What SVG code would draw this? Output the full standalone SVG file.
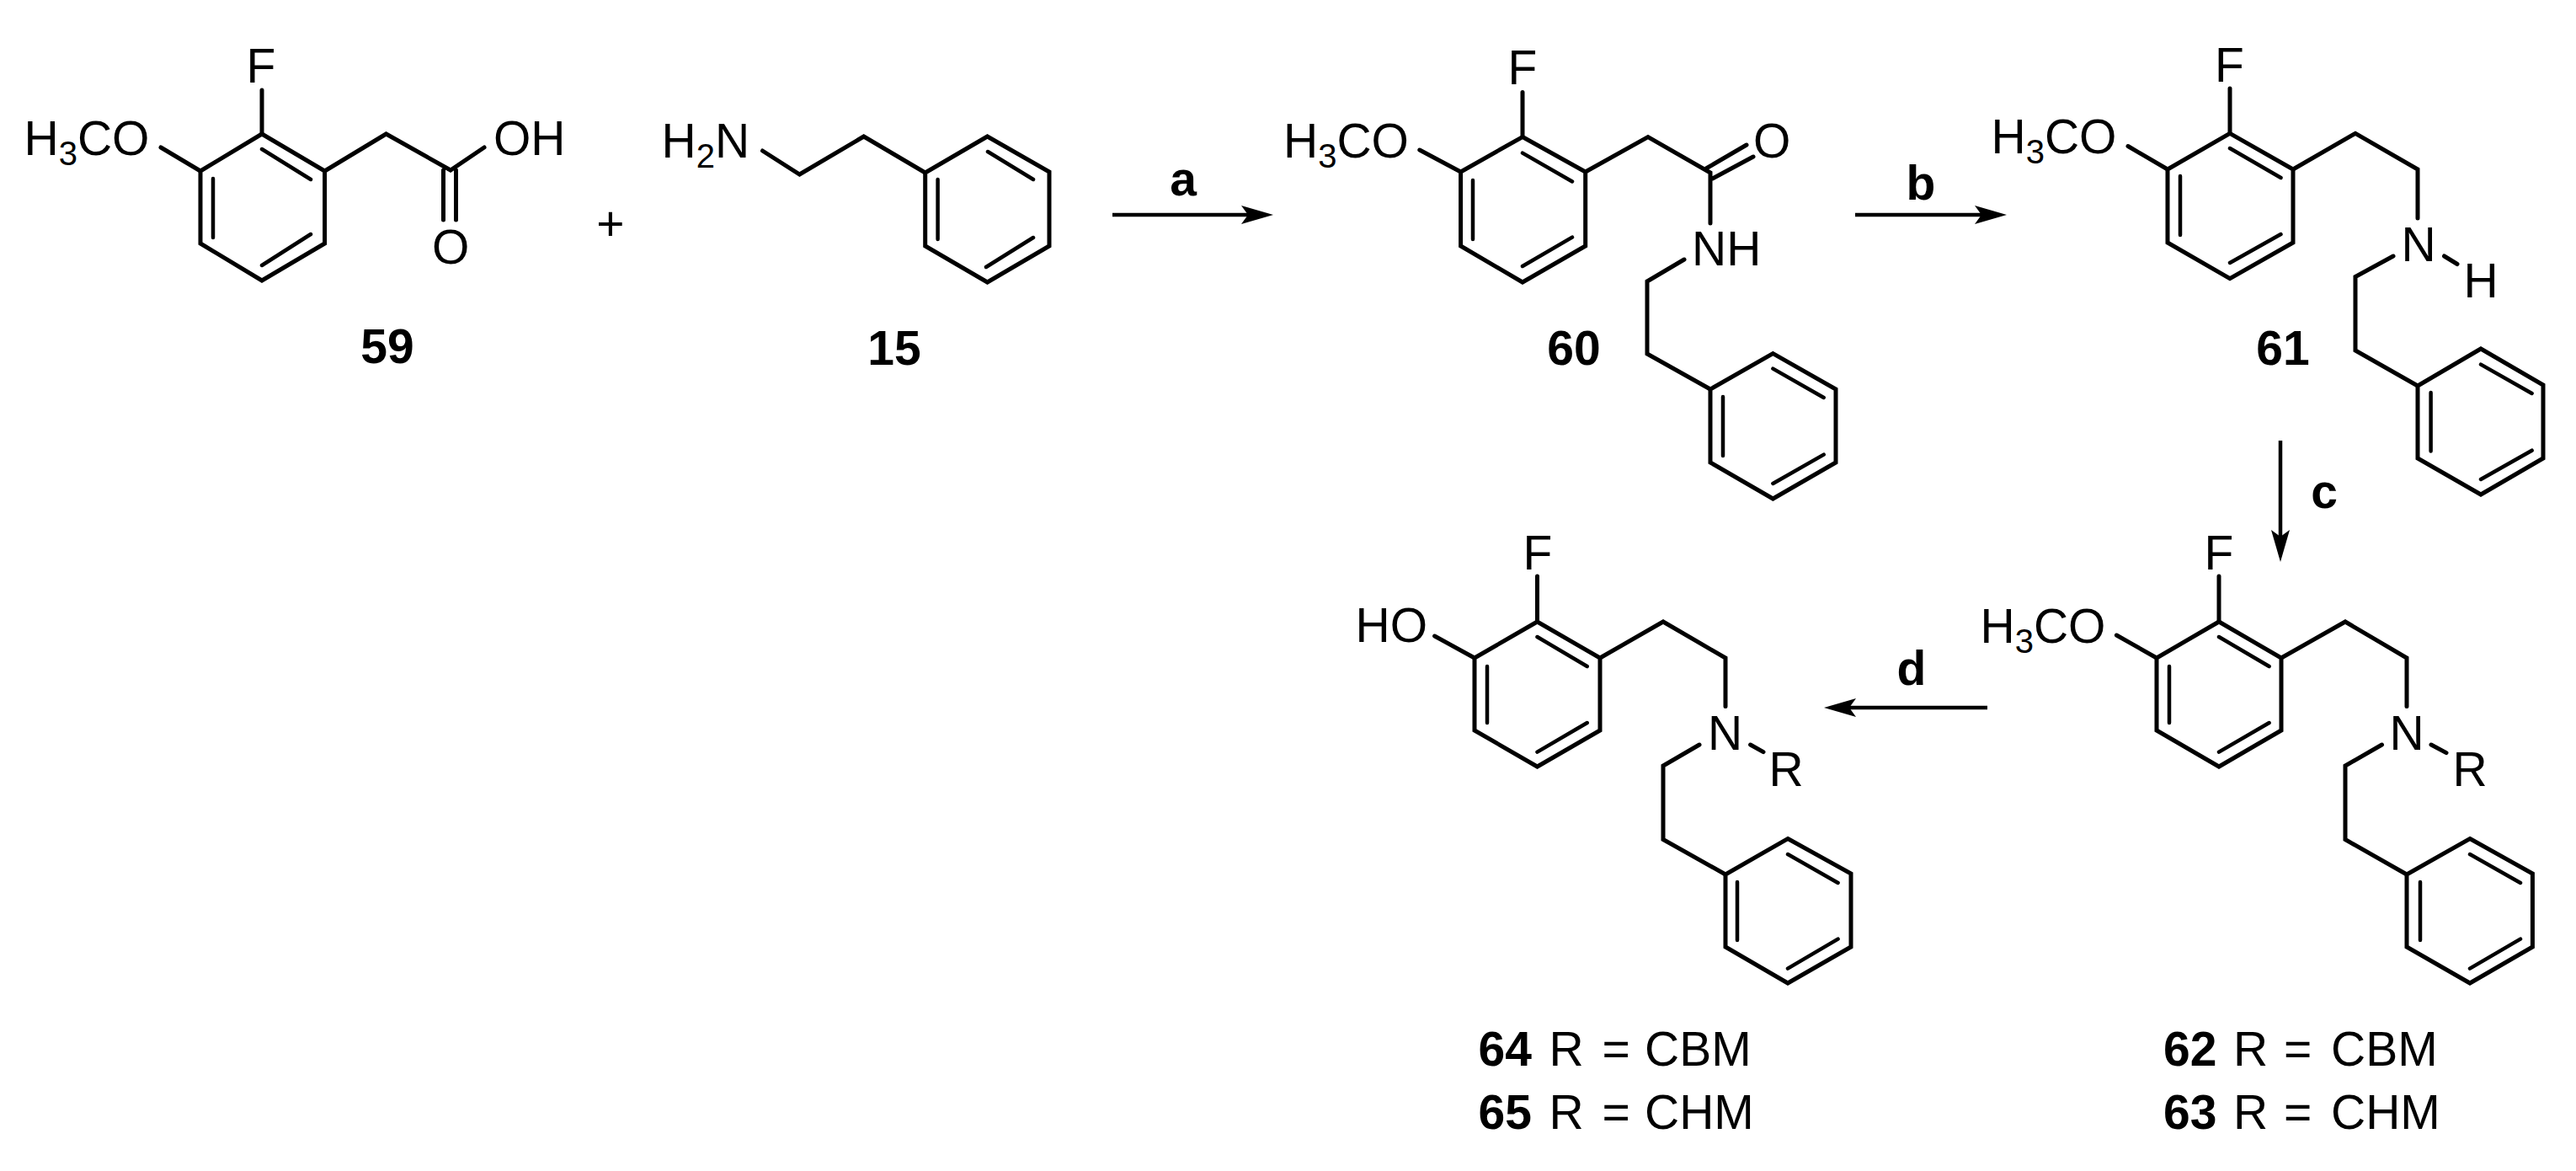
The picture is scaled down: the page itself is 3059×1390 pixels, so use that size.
<svg xmlns="http://www.w3.org/2000/svg" width="3059" height="1390" viewBox="0 0 3059 1390">
<style>
text{font-family:"Liberation Sans",Arial,sans-serif;font-size:57px;fill:#000}
.s{font-size:40px}
.b{font-weight:bold}
.m{text-anchor:middle}
path{fill:none;stroke:#000;stroke-width:5;stroke-linejoin:miter;stroke-linecap:round}
.i{stroke-width:4.5}
.ar{stroke-width:4.5;stroke-linecap:butt;marker-end:url(#head)}
#head path{fill:#000;stroke:none}
</style>
<defs>
<marker id="head" markerUnits="userSpaceOnUse" markerWidth="38" markerHeight="22" viewBox="0 0 38 22" refX="8" refY="11" orient="auto"><path d="M38,11 L0,0 L8,11 L0,22Z"/></marker>
</defs>
<rect width="3059" height="1390" fill="#fff"/>
<g id="connectors">
<path class="ar" d="M1321,255H1482"/>
<path class="ar" d="M2203,255H2353"/>
<path class="ar" d="M2708,523V637"/>
<path class="ar" d="M2360,840H2196"/>
</g>
<g id="arrow-labels">
<text class="b m" x="1405" y="232">a</text>
<text class="b m" x="2281" y="237">b</text>
<text class="b m" x="2760" y="603">c</text>
<text class="b m" x="2270" y="813">d</text>
</g>
<g id="mol-59">
<path d="M311,159L385.6,203V289L311,333L238,289V203Z"/>
<path class="i" d="M311,177L369,213M253,212V282M369,278L311,315"/>
<path d="M311,159V107M238,203L191,175M385.6,203L458.5,159L535,202L575,175M526.5,202V261M541.5,202V261"/>
<text x="292.5" y="98">F</text>
<text x="28.5" y="184">H<tspan class="s" dy="12">3</tspan><tspan dy="-12">CO</tspan></text>
<text x="586" y="184">OH</text>
<text x="513" y="313">O</text>
<text class="b m" x="460" y="431">59</text>
</g>
<text id="plus" class="m" x="725" y="285">+</text>
<g id="mol-15">
<path d="M1172.5,162L1246,204V292L1172.5,335L1098.7,292V205Z"/>
<path class="i" d="M1173,180L1227,213M1113.6,213V284M1227,282L1171,317"/>
<path d="M905.5,179L949.5,207L1025.7,162L1098.7,205"/>
<text x="785.5" y="187">H<tspan class="s" dy="12">2</tspan><tspan dy="-12">N</tspan></text>
<text class="b m" x="1062" y="433">15</text>
</g>
<g id="mol-60">
<path d="M1808,162.5L1882.7,204V292L1808,335L1734.6,292V204Z"/>
<path class="i" d="M1808,181.6L1867,215.5M1749,214V284M1867,281.6L1808,316"/>
<path d="M1808,162.5V109.4M1734.6,204L1685.8,178M1882.7,204L1957,162.5L2031,205V265M2026,200L2074,172M2033.6,212L2082,186M2000,308L1956,334V420L2031,462"/>
<path d="M2105.4,419.6L2180,462V549L2105.4,592L2031,549V462Z"/>
<path class="i" d="M2105.4,437.6L2165.7,472M2046,471V541M2165.7,539.6L2105.4,574"/>
<text x="1790.5" y="100">F</text>
<text x="1524" y="186.5">H<tspan class="s" dy="12">3</tspan><tspan dy="-12">CO</tspan></text>
<text x="2082" y="186.5">O</text>
<text x="2009" y="315">NH</text>
<text class="b m" x="1869" y="433">60</text>
</g>
<g id="mol-61">
<path d="M2648,158.4L2723,201V288L2648,330.6L2574,288V201Z"/>
<path class="i" d="M2648,176L2708.5,211M2589,209V279M2708.5,278L2648,312"/>
<path d="M2648,158.4V105M2574,201L2527,173.5M2723,201L2797,158.4L2871,201V259M2902.5,304L2918,313.5M2842,304L2797,328.6V416L2871,458"/>
<path d="M2946,414L3020,457V544L2946,587L2871,544V458Z"/>
<path class="i" d="M2946,432.6L3006.6,467M2886.6,466V535.5M3006.6,534.7L2946,569"/>
<text x="2630" y="97">F</text>
<text x="2364.5" y="181.6">H<tspan class="s" dy="12">3</tspan><tspan dy="-12">CO</tspan></text>
<text x="2851.5" y="310">N</text>
<text x="2925.5" y="353">H</text>
<text class="b m" x="2711" y="433">61</text>
</g>
<g id="mol-62-63">
<path d="M2635,738L2709,781V867L2635,910L2561,867V781Z"/>
<path class="i" d="M2635,756L2694.6,791M2576,791V858M2694.6,858L2635,892.6"/>
<path d="M2635,738V684M2561,781L2513.4,754M2709,781L2785,738L2858,781V838.6M2887,884L2905,893.6M2828.5,884L2785,909V996.5L2858,1038"/>
<path d="M2933,995.5L3007.4,1037V1124L2933,1167L2858,1124V1038Z"/>
<path class="i" d="M2933,1014L2993,1048M2874,1047V1116M2993,1114.6L2933,1149.6"/>
<text x="2617.5" y="676">F</text>
<text x="2351.5" y="763">H<tspan class="s" dy="12">3</tspan><tspan dy="-12">CO</tspan></text>
<text x="2837.5" y="890">N</text>
<text x="2912.5" y="933">R</text>
<text x="2569" y="1265.4"><tspan class="b">62</tspan> <tspan x="2652">R</tspan> <tspan x="2712">=</tspan> <tspan x="2768">CBM</tspan></text>
<text x="2569" y="1339.5"><tspan class="b">63</tspan> <tspan x="2652">R</tspan> <tspan x="2712">=</tspan> <tspan x="2768">CHM</tspan></text>
</g>
<g id="mol-64-65">
<path d="M1825.5,738L1900,781V867L1825.5,910L1751,867V781Z"/>
<path class="i" d="M1825.5,756L1884.7,791M1766,791V858M1884.7,858L1825.5,892.6"/>
<path d="M1825.5,738V684M1751,781L1703.6,755M1900,781L1975,738L2049,781V838.6M2078.6,884L2094,892.6M2018,884L1975,909V996.5L2049,1038"/>
<path d="M2123,995.5L2198,1037V1124L2123,1167L2049,1124V1038Z"/>
<path class="i" d="M2123,1014L2182.6,1048M2063,1047V1116M2182.6,1114.6L2123,1149.6"/>
<text x="1808.5" y="676">F</text>
<text x="1609.5" y="762">HO</text>
<text x="2028" y="890">N</text>
<text x="2100.5" y="933">R</text>
<text x="1755.5" y="1265.4"><tspan class="b">64</tspan> <tspan x="1839.5">R</tspan> <tspan x="1902.5">=</tspan> <tspan x="1953">CBM</tspan></text>
<text x="1755.5" y="1339.5"><tspan class="b">65</tspan> <tspan x="1839.5">R</tspan> <tspan x="1902.5">=</tspan> <tspan x="1953">CHM</tspan></text>
</g>
</svg>
